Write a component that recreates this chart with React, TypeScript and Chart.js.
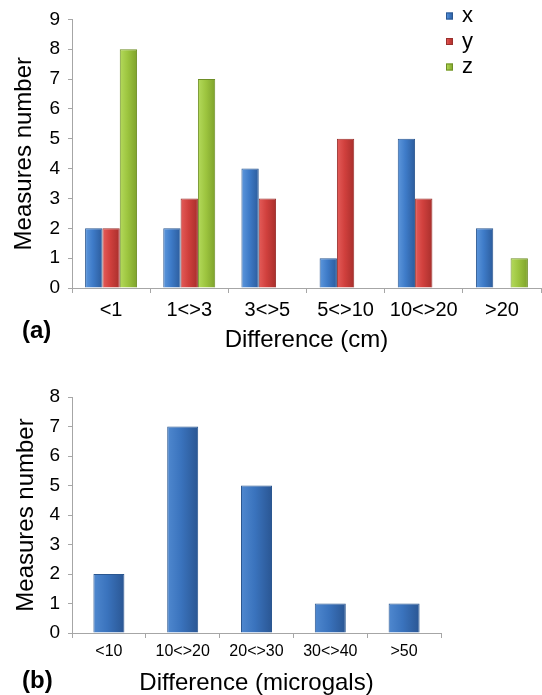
import React, { useEffect, useRef } from "react";
import { Chart, registerables } from "chart.js";

Chart.register(...registerables);

// ---------- data ----------
const categoriesA = ["<1", "1<>3", "3<>5", "5<>10", "10<>20", ">20"];
const seriesNames = ["x", "y", "z"];
const valuesX = [2, 2, 4, 1, 5, 2];
const valuesY = [2, 3, 3, 5, 3, null];
const valuesZ = [8, 7, null, null, null, 1];
const yMaxA = 9;

const categoriesB = ["<10", "10<>20", "20<>30", "30<>40", ">50"];
const valuesB = [2, 7, 5, 1, 1];
const yMaxB = 8;

// ---------- styles ----------
const FONT = "'Liberation Sans', Arial, Helvetica, sans-serif";
const AXIS = "#a6a6a6";
const BLUE = ["#5d97dc", "#3e7bc8", "#2c5c9c"];
const BLUE_B = ["#4f88cf", "#3a73bd", "#2a5693"];
const RED = ["#e45c59", "#d0403d", "#a82f2c"];
const GREEN = ["#b4da5c", "#9dc53f", "#7ea22c"];
const BORDER_BLUE = "#2b5790";
const BORDER_RED = "#99302d";
const BORDER_GREEN = "#6e8e26";

function makeFill(stops: string[], catPct: number) {
  return (ctx: any) => {
    const chart = ctx.chart;
    const xs = chart && chart.scales ? chart.scales.x : null;
    if (!xs || ctx.type !== "data") return stops[1];
    const n = chart.data.datasets.length;
    const nCat = chart.data.labels.length;
    const catW = (xs.right - xs.left) / nCat;
    const groupW = catW * catPct;
    const barW = groupW / n;
    const cx = xs.getPixelForValue(ctx.dataIndex);
    const left = cx - groupW / 2 + ctx.datasetIndex * barW;
    if (!isFinite(left) || !isFinite(barW) || barW <= 0) return stops[1];
    const g = chart.ctx.createLinearGradient(left, 0, left + barW, 0);
    g.addColorStop(0, stops[0]);
    g.addColorStop(0.45, stops[1]);
    g.addColorStop(1, stops[2]);
    return g;
  };
}

function panelLabel(text: string, x: number, y: number) {
  return {
    id: "panelLabel",
    afterDraw(chart: any) {
      const c = chart.ctx;
      c.save();
      c.font = `bold 24px ${FONT}`;
      c.fillStyle = "#000";
      c.textAlign = "left";
      c.textBaseline = "middle";
      c.fillText(text, x, y);
      c.restore();
    },
  };
}

const cornerLegend = {
  id: "cornerLegend",
  afterDraw(chart: any) {
    const c = chart.ctx;
    const sqX = 446;
    const txtX = 462;
    const rows = [16, 41.5, 67];
    c.save();
    chart.data.datasets.forEach((ds: any, i: number) => {
      const y = rows[i];
      const stops = ds.legendStops as string[];
      const g = c.createLinearGradient(sqX, 0, sqX + 7, 0);
      g.addColorStop(0, stops[0]);
      g.addColorStop(0.45, stops[1]);
      g.addColorStop(1, stops[2]);
      c.fillStyle = g;
      c.fillRect(sqX, y - 3.5, 7, 7);
      c.strokeStyle = ds.borderColor;
      c.lineWidth = 1;
      c.strokeRect(sqX + 0.5, y - 3, 6, 6);
      c.fillStyle = "#000";
      c.font = `22px ${FONT}`;
      c.textAlign = "left";
      c.textBaseline = "middle";
      c.fillText(ds.label, txtX, y);
    });
    c.restore();
  },
};

function axisCommon(tickSize: number, tickPad: number, tickLen: number) {
  return {
    grid: {
      display: true,
      drawOnChartArea: false,
      drawTicks: true,
      tickLength: tickLen,
      color: AXIS,
      lineWidth: 1,
    },
    border: { display: true, color: AXIS, width: 1 },
    ticks: {
      color: "#000",
      font: { family: FONT, size: tickSize },
      padding: tickPad,
    },
  };
}

const CAT_A = 0.665;
const CAT_B = 0.42;

export default function App() {
  const refA = useRef<HTMLCanvasElement | null>(null);
  const refB = useRef<HTMLCanvasElement | null>(null);

  useEffect(() => {
    if (!refA.current || !refB.current) return;

    const xA = axisCommon(20, 5, 5);
    const yA = axisCommon(19, 8, 4);
    const chartA = new Chart(refA.current, {
      type: "bar",
      data: {
        labels: categoriesA,
        datasets: [
          { label: seriesNames[0], data: valuesX, backgroundColor: makeFill(BLUE, CAT_A), borderColor: BORDER_BLUE, legendStops: BLUE } as any,
          { label: seriesNames[1], data: valuesY, backgroundColor: makeFill(RED, CAT_A), borderColor: BORDER_RED, legendStops: RED } as any,
          { label: seriesNames[2], data: valuesZ, backgroundColor: makeFill(GREEN, CAT_A), borderColor: BORDER_GREEN, legendStops: GREEN } as any,
        ].map((d: any) => ({ ...d, borderWidth: 1, categoryPercentage: CAT_A, barPercentage: 1 })),
      },
      options: {
        responsive: false,
        maintainAspectRatio: false,
        animation: false,
        layout: { padding: { top: 18, right: 1, left: 0, bottom: 0 } },
        plugins: { legend: { display: false }, tooltip: { enabled: false } },
        scales: {
          x: {
            ...xA,
            type: "category",
            offset: true,
            grid: { ...xA.grid, offset: true },
            ticks: { ...xA.ticks, maxRotation: 0, autoSkip: false },
            title: {
              display: true,
              text: "Difference (cm)",
              color: "#000",
              font: { family: FONT, size: 24, lineHeight: 1.2 },
              padding: { top: 0, bottom: 5 },
            },
            afterFit: (s: any) => {
              s.height = 72;
            },
          },
          y: {
            ...yA,
            min: 0,
            max: yMaxA,
            ticks: { ...yA.ticks, stepSize: 1 },
            title: {
              display: true,
              text: "Measures number",
              color: "#000",
              font: { family: FONT, size: 24, lineHeight: 1.2 },
              padding: { top: 10, bottom: 0 },
            },
            afterFit: (s: any) => {
              s.width = 72;
            },
          },
        },
      } as any,
      plugins: [cornerLegend, panelLabel("(a)", 22, 331)],
    });

    const xB = axisCommon(16, 4, 5);
    const yB = axisCommon(19, 8, 4);
    const chartB = new Chart(refB.current, {
      type: "bar",
      data: {
        labels: categoriesB,
        datasets: [
          {
            label: "gravity",
            data: valuesB,
            backgroundColor: makeFill(BLUE_B, CAT_B),
            borderColor: BORDER_BLUE,
            borderWidth: 1,
            categoryPercentage: CAT_B,
            barPercentage: 1,
          } as any,
        ],
      },
      options: {
        responsive: false,
        maintainAspectRatio: false,
        animation: false,
        layout: { padding: { top: 37, right: 101, left: 0, bottom: 0 } },
        plugins: { legend: { display: false }, tooltip: { enabled: false } },
        scales: {
          x: {
            ...xB,
            type: "category",
            offset: true,
            grid: { ...xB.grid, offset: true },
            ticks: { ...xB.ticks, maxRotation: 0, autoSkip: false },
            title: {
              display: true,
              text: "Difference (microgals)",
              color: "#000",
              font: { family: FONT, size: 24, lineHeight: 1 },
              padding: { top: 0, bottom: 0 },
            },
            afterFit: (s: any) => {
              s.height = 62;
            },
          },
          y: {
            ...yB,
            min: 0,
            max: yMaxB,
            ticks: { ...yB.ticks, stepSize: 1 },
            title: {
              display: true,
              text: "Measures number",
              color: "#000",
              font: { family: FONT, size: 24, lineHeight: 1.2 },
              padding: { top: 12, bottom: 0 },
            },
            afterFit: (s: any) => {
              s.width = 72;
            },
          },
        },
      } as any,
      plugins: [panelLabel("(b)", 22, 321)],
    });

    return () => {
      chartA.destroy();
      chartB.destroy();
    };
  }, []);

  return (
    <div
      style={{
        position: "fixed",
        left: 0,
        top: 0,
        width: 542,
        height: 695,
        background: "#fff",
        overflow: "hidden",
      }}
    >
      <canvas
        ref={refA}
        width={542}
        height={360}
        style={{ position: "absolute", left: 0, top: 0, width: 542, height: 360 }}
      />
      <canvas
        ref={refB}
        width={542}
        height={335}
        style={{ position: "absolute", left: 0, top: 360, width: 542, height: 335 }}
      />
    </div>
  );
}
